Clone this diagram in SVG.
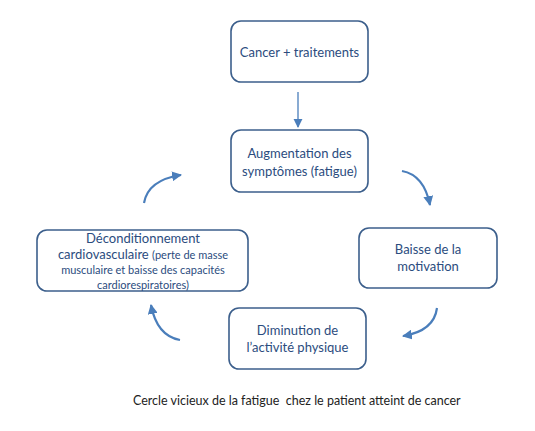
<svg xmlns="http://www.w3.org/2000/svg" width="535" height="431" viewBox="0 0 535 431">
<defs>
<style>
.box{fill:#fff;stroke:#3c5f8c;stroke-width:1.6}
.t{font-family:Lato,"Open Sans","Liberation Sans",sans-serif;font-size:13px;fill:#2b4c7e;text-anchor:middle}
.s{font-size:11px}
.conn{fill:none;stroke:#4a7ebb;stroke-width:2.2}
.straight{fill:none;stroke:#4a7ebb;stroke-width:1.3}
.cap{font-family:Lato,"Open Sans","Liberation Sans",sans-serif;font-size:12.5px;fill:#222;white-space:pre}
</style>
<marker id="ah" viewBox="0 0 10 10" refX="9" refY="5" markerWidth="4.5" markerHeight="4.5" orient="auto" markerUnits="strokeWidth">
<path d="M0,0 L10,5 L0,10 z" fill="#4a7ebb"/>
</marker>
<marker id="ah2" viewBox="0 0 10 10" refX="9" refY="5" markerWidth="7" markerHeight="7" orient="auto" markerUnits="strokeWidth">
<path d="M0,0 L10,5 L0,10 z" fill="#4a7ebb"/>
</marker>
</defs>
<rect width="535" height="431" fill="#fff"/>
<g id="connectors">
<path class="straight" d="M298,92 L298,127" marker-end="url(#ah2)"/>
<path class="conn" d="M144,203 Q148,180 181,175" marker-end="url(#ah)"/>
<path class="conn" d="M402,171 Q424,175 430,205" marker-end="url(#ah)"/>
<path class="conn" d="M437,308 Q434,331 403,336" marker-end="url(#ah)"/>
<path class="conn" d="M180,340 Q157,336 151,305" marker-end="url(#ah)"/>
</g>
<g id="n-cancer">
<rect class="box" x="231" y="21" width="137" height="61" rx="10"/>
<text class="t" x="299.5" y="57">Cancer + traitements</text>
</g>
<g id="n-augmentation">
<rect class="box" x="231" y="130" width="137" height="62" rx="10"/>
<text class="t" x="299.5" y="158">Augmentation des</text>
<text class="t" x="299.5" y="176">symptômes (fatigue)</text>
</g>
<g id="n-baisse">
<rect class="box" x="359" y="228" width="138" height="60" rx="10"/>
<text class="t" x="428" y="254">Baisse de la</text>
<text class="t" x="428" y="271">motivation</text>
</g>
<g id="n-diminution">
<rect class="box" x="229" y="308" width="137" height="61" rx="10"/>
<text class="t" x="297.5" y="335">Diminution de</text>
<text class="t" x="297.5" y="352">l’activité physique</text>
</g>
<g id="n-deconditionnement">
<rect class="box" x="37" y="230" width="211" height="61" rx="10"/>
<text class="t" x="143" y="243">Déconditionnement</text>
<text class="t" x="143" y="259">cardiovasculaire <tspan class="s">(perte de masse</tspan></text>
<text class="t s" x="143" y="274">musculaire et baisse des capacités</text>
<text class="t s" x="143" y="289">cardiorespiratoires)</text>
</g>
<text class="cap" x="133" y="405" xml:space="preserve">Cercle vicieux de la fatigue  chez le patient atteint de cancer</text>
</svg>
